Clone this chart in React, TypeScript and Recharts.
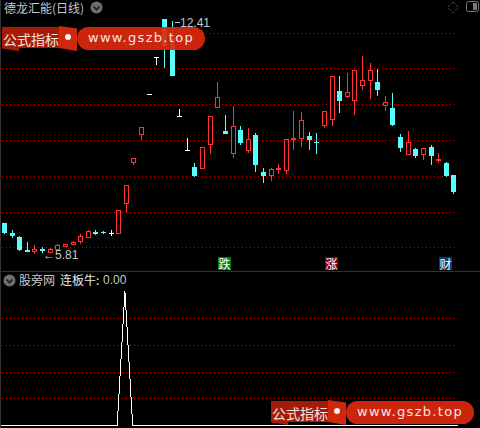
import { Bar, CartesianGrid, ComposedChart, Line, LineChart, XAxis, YAxis } from 'recharts';

const FONT = '"Noto Sans CJK SC", sans-serif';
const RED = '#ff3232';
const CYAN = '#54ffff';
const GRID = '#c80000';
const TEXT = '#c8c8c8';

const opens = [
  6.67, 6.39, 6.28, 5.92, 5.86, 5.94, 5.83, 5.92, 6.0, 6.06,
  6.14, 6.25, 6.42, 6.42, 6.39, 6.36, 7.21, 8.36, 9.15, 10.3,
  11.34, 12.41, 11.87, 9.68, 8.73, 8.25, 8.19, 8.87, 9.91, 9.26,
  8.61, 9.29, 8.7, 9.15, 8.11, 8.0, 8.16, 8.13, 9.01, 9.03,
  9.12, 8.95, 9.4, 9.57, 10.38, 10.21, 10.1, 10.52, 10.66, 10.64,
  9.96, 9.91, 9.09, 8.58, 8.75, 8.58, 8.81, 8.42, 8.36, 8.02,
];
const closes = [
  6.39, 6.31, 5.92, 5.86, 5.94, 5.89, 5.94, 6.06, 6.08, 6.14,
  6.31, 6.45, 6.36, 6.39, 6.39, 7.04, 7.74, 8.5, 9.37, 10.3,
  11.34, 11.65, 10.8, 9.68, 8.73, 8.0, 8.81, 9.68, 10.21, 9.17,
  9.4, 8.92, 9.03, 8.3, 8.0, 8.19, 8.22, 9.03, 9.06, 9.57,
  9.01, 8.92, 9.82, 10.8, 10.1, 10.35, 10.97, 10.69, 10.97, 10.41,
  10.07, 9.43, 8.78, 8.95, 8.56, 8.78, 8.56, 8.47, 8.0, 7.54,
];
const highs = [
  6.67, 6.48, 6.31, 6.14, 6.06, 6.0, 5.97, 6.08, 6.08, 6.17,
  6.36, 6.48, 6.48, 6.45, 6.48, 7.04, 7.74, 8.5, 9.37, 10.3,
  11.34, 12.41, 12.35, 9.88, 9.06, 8.36, 8.81, 9.68, 10.64, 9.71,
  9.96, 9.4, 9.34, 9.2, 8.22, 8.22, 8.33, 9.03, 9.82, 9.79,
  9.23, 9.2, 9.82, 10.8, 10.8, 10.89, 10.97, 11.37, 11.17, 11.0,
  10.24, 10.33, 9.17, 9.26, 8.78, 8.78, 8.87, 8.64, 8.39, 8.02,
];
const lows = [
  6.36, 6.25, 5.89, 5.86, 5.8, 5.83, 5.83, 5.89, 6.0, 6.06,
  6.08, 6.25, 6.34, 6.36, 6.31, 6.36, 6.98, 8.3, 9.01, 10.3,
  11.11, 11.03, 10.8, 9.68, 8.73, 7.97, 8.19, 8.61, 9.91, 9.17,
  8.5, 8.87, 8.64, 8.11, 7.8, 7.85, 8.05, 8.05, 8.73, 8.81,
  8.73, 8.61, 9.34, 9.4, 9.76, 10.19, 9.71, 10.41, 10.16, 10.24,
  9.82, 9.4, 8.67, 8.58, 8.5, 8.44, 8.3, 8.36, 7.97, 7.49,
];
const lianBan = [
  0, 0, 0, 0, 0, 0, 0, 0, 0, 0,
  0, 0, 0, 0, 0, 0, 1, 0, 0, 0,
  0, 0, 0, 0, 0, 0, 0, 0, 0, 0,
  0, 0, 0, 0, 0, 0, 0, 0, 0, 0,
  0, 0, 0, 0, 0, 0, 0, 0, 0, 0,
  0, 0, 0, 0, 0, 0, 0, 0, 0, 0,
];
const priceGrid = [5.98, 6.97, 7.98, 8.99, 10.01, 11.02, 12];
const lowerGrid = [0.198, 0.395, 0.595, 0.795];

const candles = opens.map((open, i) => ({
  i,
  open,
  close: closes[i],
  high: highs[i],
  low: lows[i],
  range: [lows[i], highs[i]],
}));
const lowerData = lianBan.map((v, i) => ({ i, v }));

function Candle(props: any) {
  const { x, y, height, payload } = props;
  const { open, close, high, low } = payload;
  const at = (v: number) => (high === low ? y : y + ((high - v) / (high - low)) * height);
  const left = Math.round(x);
  const mid = left + 2;
  const top = Math.round(at(Math.max(open, close)));
  const bottom = Math.round(at(Math.min(open, close)));
  const hi = Math.round(y);
  const lo = Math.round(y + height);
  const color = open === close ? '#ffffff' : close > open ? RED : CYAN;
  const hollow = close > open && bottom - top > 2;
  return (
    <g shapeRendering="crispEdges">
      {top > hi && <rect x={mid} y={hi} width={1} height={top - hi} fill={color} />}
      {lo > bottom && <rect x={mid} y={bottom} width={1} height={lo - bottom} fill={color} />}
      {hollow ? (
        <rect x={left + 0.5} y={top + 0.5} width={4} height={bottom - top - 1} fill="#000" stroke={color} />
      ) : (
        <rect x={left} y={top} width={5} height={Math.max(bottom - top, 1)} fill={color} />
      )}
    </g>
  );
}

// dots land on whole pixels, the default grid line blurs them
function DottedLine(props: any) {
  const y = Math.floor(props.y1) + 0.5;
  return (
    <line
      x1={props.x1}
      x2={props.x2}
      y1={y}
      y2={y}
      stroke={GRID}
      strokeDasharray="1 3"
      strokeDashoffset={3}
      shapeRendering="crispEdges"
    />
  );
}

function Chevron({ left, top }: { left: number; top: number }) {
  return (
    <svg width={13} height={13} style={{ position: 'absolute', left, top }}>
      <circle cx={6.5} cy={6.5} r={6} fill="#6e6e6e" />
      <path d="M3.5 5.5 L6.5 8.5 L9.5 5.5" fill="none" stroke="#1c1c1c" strokeWidth={1.6} />
    </svg>
  );
}

function Label({ left, top, color = TEXT, size = 12, children }: any) {
  return (
    <span
      style={{
        position: 'absolute',
        left,
        top,
        color,
        fontFamily: FONT,
        fontSize: size,
        lineHeight: '14px',
        whiteSpace: 'nowrap',
      }}
    >
      {children}
    </span>
  );
}

function Price({ left, top, children }: any) {
  return (
    <span
      style={{
        position: 'absolute',
        left,
        top,
        color: TEXT,
        fontFamily: '"Liberation Sans", sans-serif',
        fontSize: 12,
        lineHeight: '14px',
        whiteSpace: 'nowrap',
      }}
    >
      {children}
    </span>
  );
}

function Signal({ left, bg, children }: any) {
  return (
    <div
      style={{
        position: 'absolute',
        left,
        top: 257,
        width: 13,
        height: 13,
        background: bg,
        color: '#fff',
        fontFamily: FONT,
        fontSize: 12,
        lineHeight: '13px',
        textAlign: 'center',
      }}
    >
      {children}
    </div>
  );
}

function Watermark({ left, top }: { left: number; top: number }) {
  return (
    <div style={{ position: 'absolute', left, top, width: 204, height: 25 }}>
      <div
        style={{
          position: 'absolute',
          left: 0,
          top: 0,
          width: 57,
          height: 24,
          background: 'rgba(176,28,6,0.95)',
          clipPath: 'polygon(0 0, 100% 0, 100% 88%, 30% 88%, 30% 100%, 0 90%)',
        }}
      />
      <div
        style={{
          position: 'absolute',
          left: 57,
          top: -1,
          width: 18,
          height: 25,
          background: 'rgba(218,42,14,0.95)',
          clipPath: 'polygon(0 0, 100% 10%, 100% 100%, 0 88%)',
        }}
      />
      <div
        style={{
          position: 'absolute',
          left: 75,
          top: 0,
          width: 128,
          height: 23,
          borderRadius: 12,
          background: 'rgba(220,40,14,0.93)',
        }}
      />
      <span
        style={{
          position: 'absolute',
          left: 1,
          top: 2,
          color: '#f2e4e0',
          fontFamily: FONT,
          fontSize: 14,
          lineHeight: '20px',
          whiteSpace: 'nowrap',
        }}
      >
        公式指标
      </span>
      <div
        style={{
          position: 'absolute',
          left: 63,
          top: 7,
          width: 6,
          height: 6,
          borderRadius: 3,
          background: '#f4f0ee',
        }}
      />
      <span
        style={{
          position: 'absolute',
          left: 86,
          top: 1,
          color: '#f4e6e2',
          fontFamily: '"DejaVu Sans", sans-serif',
          fontSize: 13,
          letterSpacing: 1.3,
          lineHeight: '20px',
          whiteSpace: 'nowrap',
        }}
      >
        www.gszb.top
      </span>
    </div>
  );
}

export default function App() {
  return (
    <div style={{ position: 'absolute', left: 0, top: 0, width: 480, height: 428, background: '#000', overflow: 'hidden' }}>
      <div style={{ position: 'absolute', left: 0, top: 0 }}>
        <ComposedChart width={480} height={271} data={candles} margin={{ top: 0, right: 22, bottom: 0, left: 1 }}>
          <CartesianGrid vertical={false} horizontalValues={priceGrid} horizontal={DottedLine} />
          <XAxis dataKey="i" hide />
          <YAxis hide domain={[5.325, 12.94]} />
          <Bar dataKey="range" barSize={5} shape={<Candle />} isAnimationActive={false} />
        </ComposedChart>
      </div>

      <div style={{ position: 'absolute', left: 0, top: 271, width: 480, height: 1, background: '#a80000' }} />
      <div style={{ position: 'absolute', left: 0, top: 0, width: 1, height: 428, background: '#333' }} />

      <div style={{ position: 'absolute', left: 0, top: 280 }}>
        <LineChart width={480} height={148} data={lowerData} margin={{ top: 0, right: 22, bottom: 0, left: 1 }}>
          <CartesianGrid vertical={false} horizontalValues={lowerGrid} horizontal={DottedLine} />
          <XAxis dataKey="i" hide />
          <YAxis hide domain={[-0.019, 1.082]} />
          <Line
            dataKey="v"
            type="linear"
            stroke="#ffffff"
            strokeWidth={1}
            dot={false}
            shapeRendering="crispEdges"
            isAnimationActive={false}
          />
        </LineChart>
      </div>

      <Label left={4} top={1}>德龙汇能(日线)</Label>
      <Chevron left={90} top={1} />
      <svg width={14} height={14} style={{ position: 'absolute', left: 446, top: 0 }}>
        <path d="M7 2 L12.5 7.5 L7 13 L1.5 7.5 Z" fill="none" stroke="#666" strokeDasharray="1 1" />
      </svg>
      <svg width={14} height={14} style={{ position: 'absolute', left: 466, top: 1 }}>
        <rect x={0.5} y={0.5} width={12} height={10} rx={2} fill="none" stroke="#777" />
        <rect x={7} y={2} width={4} height={7} fill="#777" />
      </svg>

      <svg width={5} height={5} style={{ position: 'absolute', left: 175, top: 20 }}>
        <path d="M0 2.5 H5" stroke={TEXT} />
      </svg>
      <Price left={180} top={16}>12.41</Price>
      <Price left={43} top={248}>←5.81</Price>

      <Signal left={218} bg="#00800f">跌</Signal>
      <Signal left={325} bg="#8c0000">涨</Signal>
      <Signal left={439} bg="#0c3c74">财</Signal>

      <Chevron left={3} top={274} />
      <Label left={19} top={273}>股旁网</Label>
      <Label left={60} top={273} color="#e8e8e8">连板牛:</Label>
      <Price left={103} top={273}>0.00</Price>

      <Watermark left={2} top={27} />
      <Watermark left={271} top={401} />
    </div>
  );
}
